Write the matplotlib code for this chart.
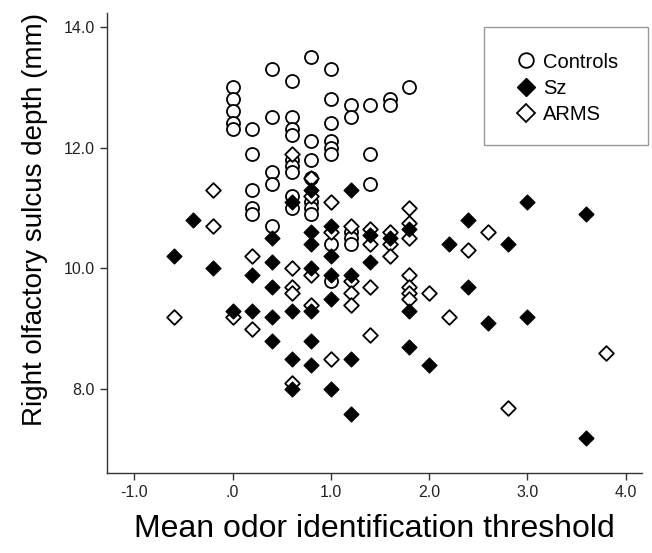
import matplotlib
matplotlib.use("Agg")
import matplotlib.pyplot as plt
from matplotlib.lines import Line2D
from matplotlib.patches import Rectangle

# group data: mean odor identification threshold (x) vs right olfactory sulcus depth (y)
controls_x = [0, 0, 0, 0, 0,
              0.2, 0.2, 0.2, 0.2, 0.2,
              0.4, 0.4, 0.4, 0.4, 0.4,
              0.6, 0.6, 0.6, 0.6, 0.6, 0.6, 0.6, 0.6, 0.6,
              0.8, 0.8, 0.8, 0.8, 0.8, 0.8, 0.8,
              1.0, 1.0, 1.0, 1.0, 1.0, 1.0, 1.0, 1.0,
              1.2, 1.2, 1.2, 1.2, 1.2,
              1.4, 1.4, 1.4,
              1.6, 1.6,
              1.8]
controls_y = [13.0, 12.8, 12.6, 12.4, 12.3,
              12.3, 11.9, 11.3, 11.0, 10.9,
              13.3, 12.5, 11.6, 11.4, 10.7,
              13.1, 12.5, 12.3, 12.2, 11.8, 11.7, 11.6, 11.2, 11.0,
              13.5, 12.1, 11.8, 11.5, 11.1, 11.0, 10.9,
              13.3, 12.8, 12.4, 12.1, 12.0, 11.9, 10.4, 9.8,
              12.7, 12.5, 10.6, 10.5, 10.4,
              12.7, 11.9, 11.4,
              12.8, 12.7,
              13.0]

sz_x = [-0.6, -0.4, -0.2,
        0,
        0.2, 0.2,
        0.4, 0.4, 0.4, 0.4, 0.4,
        0.6, 0.6, 0.6, 0.6,
        0.8, 0.8, 0.8, 0.8, 0.8, 0.8, 0.8,
        1.0, 1.0, 1.0, 1.0, 1.0,
        1.2, 1.2, 1.2, 1.2,
        1.4, 1.4,
        1.6,
        1.8, 1.8, 1.8,
        2.0, 2.2, 2.4, 2.4, 2.6, 2.8,
        3.0, 3.0, 3.6, 3.6]
sz_y = [10.2, 10.8, 10.0,
        9.3,
        9.9, 9.3,
        10.5, 10.1, 9.7, 9.2, 8.8,
        11.1, 9.3, 8.5, 8.0,
        11.3, 10.6, 10.4, 10.0, 9.3, 8.8, 8.4,
        10.7, 10.2, 9.9, 9.5, 8.0,
        11.3, 9.9, 8.5, 7.6,
        10.55, 10.1,
        10.5,
        10.65, 9.3, 8.7,
        8.4, 10.4, 10.8, 9.7, 9.1, 10.4,
        11.1, 9.2, 10.9, 7.2]

arms_x = [-0.6, -0.2, -0.2,
          0,
          0.2, 0.2,
          0.6, 0.6, 0.6, 0.6, 0.6,
          0.8, 0.8, 0.8, 0.8,
          1.0, 1.0, 1.0,
          1.2, 1.2, 1.2, 1.2,
          1.4, 1.4, 1.4, 1.4,
          1.6, 1.6, 1.6,
          1.8, 1.8, 1.8, 1.8, 1.8, 1.8, 1.8,
          2.0, 2.2, 2.4, 2.6, 2.8, 3.8]
arms_y = [9.2, 11.3, 10.7,
          9.2,
          10.2, 9.0,
          11.9, 10.0, 9.7, 9.6, 8.1,
          11.5, 11.2, 9.9, 9.4,
          11.1, 10.6, 8.5,
          10.7, 9.8, 9.6, 9.4,
          10.65, 10.4, 9.7, 8.9,
          10.6, 10.4, 10.2,
          11.0, 10.75, 10.5, 9.9, 9.7, 9.6, 9.5,
          9.6, 9.2, 10.3, 10.6, 7.7, 8.6]

x_ticks = [-1, 0, 1, 2, 3, 4]
x_ticklabels = ["-1.0", ".0", "1.0", "2.0", "3.0", "4.0"]
y_ticks = [8, 10, 12, 14]
y_ticklabels = ["8.0", "10.0", "12.0", "14.0"]

plt.rcParams["font.family"] = ["Liberation Sans", "DejaVu Sans"]

fig = plt.figure(figsize=(6.52, 5.53), dpi=100)
ax = fig.add_axes([0.164, 0.145, 0.821, 0.832])

ax.scatter(controls_x, controls_y, marker="o", s=88, facecolors="white",
           edgecolors="black", linewidths=1.3, zorder=3)
ax.scatter(arms_x, arms_y, marker="D", s=56, facecolors="white",
           edgecolors="black", linewidths=1.3, zorder=4)
ax.scatter(sz_x, sz_y, marker="D", s=56, facecolors="black",
           edgecolors="black", linewidths=1.0, zorder=5)

ax.set_xlim(-1.28, 4.17)
ax.set_ylim(6.62, 14.23)
ax.set_xticks(x_ticks)
ax.set_xticklabels(x_ticklabels)
ax.set_yticks(y_ticks)
ax.set_yticklabels(y_ticklabels)
ax.tick_params(direction="out", length=5, width=1, labelsize=11.5, colors="#333333",
               labelcolor="#222222")

for side in ["top", "right"]:
    ax.spines[side].set_visible(False)
for side in ["left", "bottom"]:
    ax.spines[side].set_color("#333333")
    ax.spines[side].set_linewidth(1)

ax.set_xlabel("Mean odor identification threshold", fontsize=23, labelpad=10)
ax.set_ylabel("Right olfactory sulcus depth (mm)", fontsize=20)
ax.yaxis.set_label_coords(-0.110, 0.55)

# legend box drawn by hand so its size matches the original
W, H = 652, 553
fig.patches.append(Rectangle((484 / W, 1 - 145 / H), (648 - 484) / W, (145 - 27) / H,
                             transform=fig.transFigure, facecolor="white",
                             edgecolor="#999999", linewidth=1, zorder=10))
handles = [
    Line2D([], [], linestyle="none", marker="o", markersize=10.5, markerfacecolor="white",
           markeredgecolor="black", markeredgewidth=1.3),
    Line2D([], [], linestyle="none", marker="D", markersize=9, markerfacecolor="black",
           markeredgecolor="black"),
    Line2D([], [], linestyle="none", marker="D", markersize=9, markerfacecolor="white",
           markeredgecolor="black", markeredgewidth=1.3),
]
leg = fig.legend(handles, ["Controls", "Sz", "ARMS"], loc="upper left",
                 bbox_to_anchor=(516 / W, 1 - 52.5 / H), frameon=False, fontsize=14.5,
                 handlelength=1.0, handletextpad=0.34, labelspacing=0.37, borderpad=0,
                 borderaxespad=0)
leg.set_zorder(11)

fig.savefig("out.png", dpi=100)
